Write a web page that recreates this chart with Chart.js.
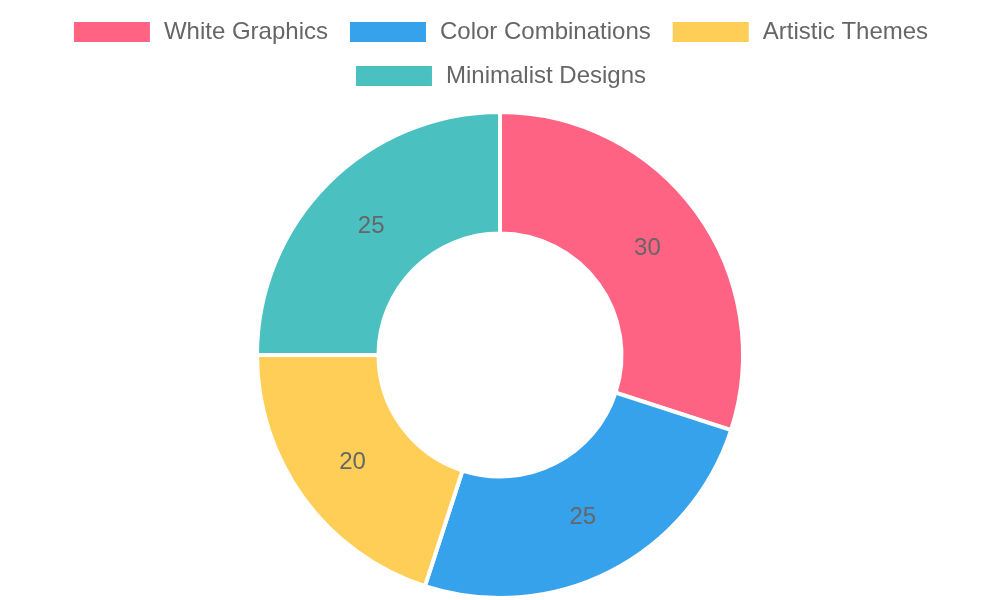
<!DOCTYPE html>
<html>
<head>
<meta charset="utf-8">
<script src="https://cdn.jsdelivr.net/npm/chart.js@4/dist/chart.umd.min.js"></script>
<style>
html,body{margin:0;padding:0;background:#fff;}
#wrap{width:1000px;height:600px;}
</style>
</head>
<body>
<div id="wrap"><canvas id="c"></canvas></div>
<script>
const categories = ["White Graphics", "Color Combinations", "Artistic Themes", "Minimalist Designs"];
const values = [30, 25, 20, 25];
const colors = ["#FF6384", "#36A2EB", "#FFCE56", "#4BC0C0"];

const labelPlugin = {
  id: 'sliceLabels',
  afterDatasetsDraw(chart) {
    const ctx = chart.ctx;
    const meta = chart.getDatasetMeta(0);
    ctx.save();
    ctx.font = '24px "Liberation Sans", Arial, sans-serif';
    ctx.fillStyle = '#666666';
    ctx.textAlign = 'center';
    ctx.textBaseline = 'middle';
    meta.data.forEach((arc, i) => {
      const p = arc.tooltipPosition();
      ctx.fillText(String(values[i]), p.x, p.y);
    });
    ctx.restore();
  }
};

// adds a little extra space below the legend
const legendGap = {
  id: 'legendGap',
  beforeLayout(chart) {
    const lg = chart.legend;
    if (lg && !lg._gapPatched) {
      const origFit = lg.fit.bind(lg);
      lg.fit = function () { origFit(); this.height += 12; };
      lg._gapPatched = true;
    }
  }
};

new Chart(document.getElementById('c'), {
  type: 'doughnut',
  data: {
    labels: categories,
    datasets: [{
      data: values,
      backgroundColor: colors,
      borderColor: '#ffffff',
      borderWidth: 4
    }]
  },
  options: {
    responsive: true,
    maintainAspectRatio: false,
    animation: false,
    cutout: '50%',
    plugins: {
      legend: {
        position: 'top',
        labels: {
          boxWidth: 80,
          padding: 20,
          color: '#666666',
          font: { size: 24, family: '"Liberation Sans", Arial, sans-serif' }
        }
      },
      tooltip: { enabled: false }
    }
  },
  plugins: [labelPlugin, legendGap]
});
</script>
</body>
</html>
